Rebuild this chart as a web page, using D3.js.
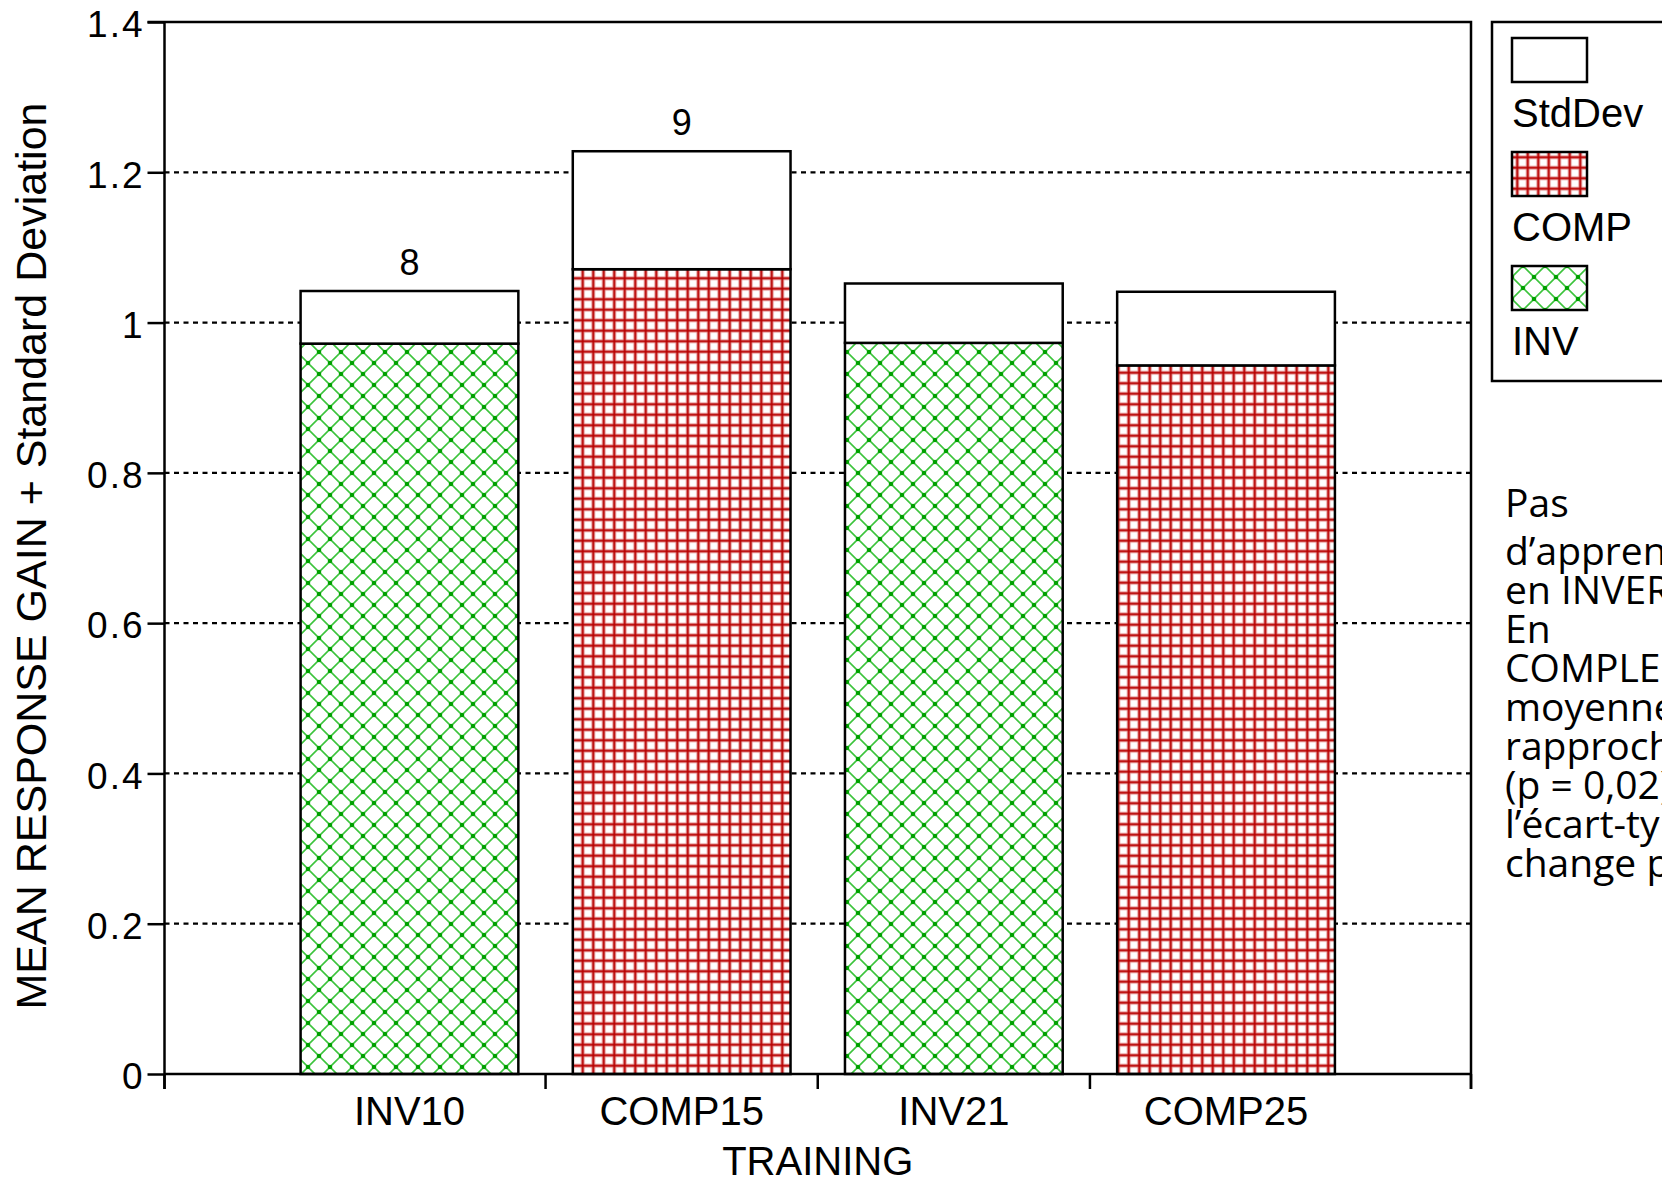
<!DOCTYPE html>
<html>
<head>
<meta charset="utf-8">
<script src="https://cdn.jsdelivr.net/npm/d3@7"></script>
<style>
  body { margin: 0; background: #fff; }
  svg { display: block; }
</style>
</head>
<body>
<svg id="chart"></svg>
<script>
// data
const categories = ["INV10", "COMP15", "INV21", "COMP25"];
const groups = ["INV", "COMP", "INV", "COMP"];
const means = [0.972, 1.071, 0.973, 0.943];
const stdDevs = [0.070, 0.157, 0.079, 0.098];
const nLabels = ["8", "9", "", ""];
const yTicks = [0, 0.2, 0.4, 0.6, 0.8, 1, 1.2, 1.4];
const legendKeys = ["StdDev", "COMP", "INV"];
const noteLines = ["Pas", "d’apprentissage", "en INVERSION.", "En", "COMPLEMENTAIRE, la",
  "moyenne se", "rapproche de 1", "(p = 0,02) et", "l’écart-type ne", "change pas."];

const width = 1662, height = 1182;
const plotLeft = 164.5, plotRight = 1471, plotTop = 22, plotBottom = 1074;
const font = "'Liberation Sans', Arial, sans-serif";

const svg = d3.select("#chart")
  .attr("width", width)
  .attr("height", height)
  .attr("viewBox", [0, 0, width, height]);

svg.append("rect").attr("width", width).attr("height", height).attr("fill", "#fff");

// hatch patterns
const defs = svg.append("defs");
const inv = defs.append("pattern")
  .attr("id", "pat-INV")
  .attr("patternUnits", "userSpaceOnUse")
  .attr("width", 22).attr("height", 22);
inv.append("rect").attr("width", 22).attr("height", 22).attr("fill", "#fff");
inv.append("path")
  .attr("d", "M11,0L22,11L11,22L0,11Z")
  .attr("fill", "none").attr("stroke", "#3cc43c").attr("stroke-width", 1.7);
inv.selectAll("circle")
  .data([[11, 0], [22, 11], [11, 22], [0, 11]])
  .join("circle")
  .attr("cx", d => d[0]).attr("cy", d => d[1]).attr("r", 2.3)
  .attr("fill", "#00a000");

const comp = defs.append("pattern")
  .attr("id", "pat-COMP")
  .attr("patternUnits", "userSpaceOnUse")
  .attr("width", 10.5).attr("height", 10.5);
comp.append("rect").attr("width", 10.5).attr("height", 10.5).attr("fill", "#fff");
comp.append("path")
  .attr("d", "M5.25,0V10.5M0,5.25H10.5")
  .attr("stroke", "#e9a3a3").attr("stroke-width", 3.8);
comp.append("path")
  .attr("d", "M5.25,0V10.5M0,5.25H10.5")
  .attr("stroke", "#b80000").attr("stroke-width", 1.9);

const fillFor = key => key === "StdDev" ? "#fff" : `url(#pat-${key})`;

// scales
const x = d3.scaleBand()
  .domain(categories)
  .range([plotLeft, plotRight])
  .paddingInner(0.2)
  .paddingOuter(0.5);

const y = d3.scaleLinear()
  .domain([0, 1.4])
  .range([plotBottom, plotTop]);

// dotted grid
svg.append("g")
  .selectAll("line")
  .data(yTicks.filter(d => d > 0 && d < 1.4))
  .join("line")
  .attr("x1", plotLeft).attr("x2", plotRight)
  .attr("y1", y).attr("y2", y)
  .attr("stroke", "#000")
  .attr("stroke-width", 2.2)
  .attr("stroke-dasharray", "5,4.5");

// bars: mean (hatched) + standard deviation (white) on top
const rows = categories.map((c, i) => ({c, g: groups[i], m: means[i], sd: stdDevs[i], n: nLabels[i]}));
const bars = svg.append("g")
  .selectAll("g")
  .data(rows)
  .join("g")
  .attr("stroke", "#000")
  .attr("stroke-width", 2.5);

bars.append("rect")
  .attr("x", d => x(d.c))
  .attr("width", x.bandwidth())
  .attr("y", d => y(d.m))
  .attr("height", d => y(0) - y(d.m))
  .attr("fill", d => fillFor(d.g));

bars.append("rect")
  .attr("x", d => x(d.c))
  .attr("width", x.bandwidth())
  .attr("y", d => y(d.m + d.sd))
  .attr("height", d => y(d.m) - y(d.m + d.sd))
  .attr("fill", "#fff");

bars.append("text")
  .attr("x", d => x(d.c) + x.bandwidth() / 2)
  .attr("y", d => y(d.m + d.sd) - 16)
  .attr("text-anchor", "middle")
  .attr("stroke", "none")
  .attr("fill", "#000")
  .attr("font-family", font)
  .attr("font-size", 36)
  .text(d => d.n);

// frame (top and right)
svg.append("path")
  .attr("d", `M${plotLeft - 17},${plotTop}H${plotRight}V${plotBottom + 15}`)
  .attr("fill", "none")
  .attr("stroke", "#000")
  .attr("stroke-width", 2.5);

// y axis
svg.append("g")
  .attr("transform", `translate(${plotLeft},0)`)
  .call(d3.axisLeft(y)
    .tickValues(yTicks)
    .tickSize(17)
    .tickSizeOuter(0)
    .tickPadding(3)
    .tickFormat(d => String(+d.toFixed(1))))
  .call(g => g.select(".domain")
    .attr("d", `M0,${plotTop}V${plotBottom + 15}`)
    .attr("stroke-width", 2.5))
  .call(g => g.selectAll(".tick line").attr("stroke-width", 2.5))
  .call(g => g.selectAll(".tick text")
    .attr("font-family", font)
    .attr("font-size", 37)
    .attr("letter-spacing", 2)
    .attr("dy", "0.4em"));

// x axis: labels at band centres, ticks at band boundaries
const step = x.step();
const boundaries = [plotLeft, ...categories.slice(1).map(c => x(c) - step * x.paddingInner() / 2), plotRight];

svg.append("g")
  .attr("transform", `translate(0,${plotBottom})`)
  .call(d3.axisBottom(x).tickSize(0).tickSizeOuter(0).tickPadding(51))
  .call(g => g.select(".domain")
    .attr("d", `M${plotLeft},0H${plotRight}`)
    .attr("stroke-width", 2.5))
  .call(g => g.selectAll(".tick text")
    .attr("font-family", font)
    .attr("font-size", 40)
    .attr("dy", 0)
    .attr("y", 51))
  .call(g => g.selectAll(".bnd")
    .data(boundaries)
    .join("line")
    .attr("class", "bnd")
    .attr("x1", d => d).attr("x2", d => d)
    .attr("y1", 0).attr("y2", 15)
    .attr("stroke", "#000")
    .attr("stroke-width", 2.5));

// axis titles
svg.append("text")
  .attr("x", (plotLeft + plotRight) / 2)
  .attr("y", 1175)
  .attr("text-anchor", "middle")
  .attr("font-family", font)
  .attr("font-size", 40)
  .text("TRAINING");

svg.append("text")
  .attr("transform", "translate(46,556) rotate(-90)")
  .attr("text-anchor", "middle")
  .attr("font-family", font)
  .attr("font-size", 43)
  .text("MEAN RESPONSE GAIN + Standard Deviation");

// legend
const legend = svg.append("g");
legend.append("rect")
  .attr("x", 1492).attr("y", 22)
  .attr("width", 220).attr("height", 359)
  .attr("fill", "#fff")
  .attr("stroke", "#000")
  .attr("stroke-width", 2.5);

const item = legend.selectAll("g")
  .data(legendKeys)
  .join("g")
  .attr("transform", (d, i) => `translate(1512,${38 + i * 114})`);
item.append("rect")
  .attr("width", 75).attr("height", 44)
  .attr("fill", fillFor)
  .attr("stroke", "#000")
  .attr("stroke-width", 2.5);
item.append("text")
  .attr("x", 0).attr("y", 89)
  .attr("font-family", font)
  .attr("font-size", 40)
  .text(d => d);

// note on the right (runs off the edge like the original slide)
svg.append("g")
  .selectAll("text")
  .data(noteLines)
  .join("text")
  .attr("x", 1505)
  .attr("y", (d, i) => i === 0 ? 517 : 565 + (i - 1) * 39)
  .attr("font-family", "'Open Sans', sans-serif")
  .attr("font-size", 39)
  .text(d => d);
</script>
</body>
</html>
